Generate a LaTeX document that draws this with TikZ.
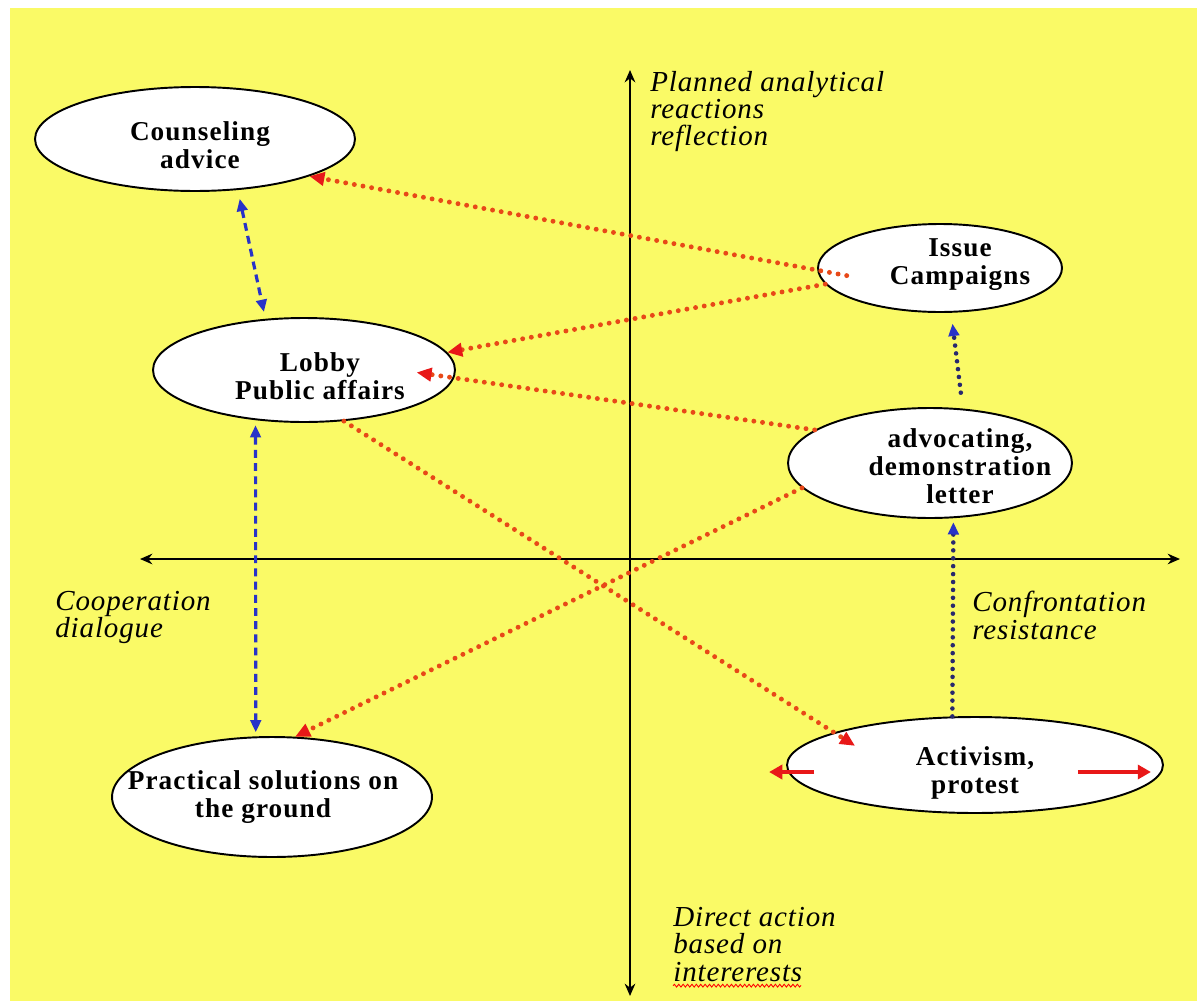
\documentclass[tikz,border=0pt]{standalone}
\usepackage{fontspec}
\setmainfont{Liberation Serif}
\newfontfamily\bubblefont[LetterSpace=4]{Liberation Serif}
\newfontfamily\captionfont[LetterSpace=3]{Liberation Serif}
\usetikzlibrary{arrows.meta,shapes.geometric,calc,decorations.pathmorphing}

\definecolor{paper}{RGB}{250,250,102}
\definecolor{dotred}{RGB}{232,72,24}
\definecolor{tipred}{RGB}{232,24,24}
\definecolor{dashblue}{RGB}{40,50,200}
\definecolor{dotnavy}{RGB}{40,40,110}

\tikzset{
  bubble/.style={ellipse, draw=black, line width=1.1pt, fill=white, inner sep=0pt},
  bubbletext/.style={font=\bubblefont\bfseries\fontsize{15.5}{16}\selectfont, align=center, inner sep=0pt},
  axislabel/.style={font=\captionfont\itshape\fontsize{16.5}{15.5}\selectfont, align=left, anchor=north west, inner sep=0pt},
  axisline/.style={line width=1.3pt, {Stealth[length=7pt,width=6pt]}-{Stealth[length=7pt,width=6pt]}},
  reddots/.style={draw=dotred, line width=2.8pt, line cap=round, dash pattern=on 0pt off 5pt, -{Triangle[length=8.5pt,width=7.5pt,color=tipred]}},
  bluedash/.style={draw=dashblue, line width=1.8pt, dash pattern=on 4.5pt off 3pt, {Triangle[length=7pt,width=6pt]}-{Triangle[length=7pt,width=6pt]}},
  navydots/.style={draw=dotnavy, line width=2.6pt, line cap=round, dash pattern=on 0pt off 4.5pt, -{Triangle[length=7pt,width=6pt,color=dashblue]}},
  redarrow/.style={draw=tipred, line width=2.4pt, -{Triangle[length=7.5pt,width=8pt]}},
  spellwave/.style={draw=red, line width=0.5pt, decorate, decoration={snake, segment length=2.5pt, amplitude=0.8pt}},
}

\begin{document}
\begin{tikzpicture}[x=0.02cm, y=-0.02cm]
  \useasboundingbox (0,0) rectangle (1197,1001);
  \fill[paper] (10,8) rectangle (1197,1001);

  % axes
  \coordinate (ytop) at (630,70);
  \coordinate (ybot) at (630,996);
  \coordinate (xleft) at (140,559);
  \coordinate (xright) at (1180,559);
  \draw[axisline] (ybot) -- (ytop);
  \draw[axisline] (xleft) -- (xright);

  % axis captions
  \node[axislabel] (planned) at (650,71) {Planned analytical\\reactions\\reflection};
  \node[axislabel] (coop) at (55,591) {Cooperation\\dialogue};
  \node[axislabel] (confront) at (972,591) {Confrontation\\resistance};
  \node[axislabel] (direct) at (673,907) {Direct action\\based on\\intererests};
  \draw[spellwave] ($(direct.south west)+(0,4)$) -- ($(direct.south west)+(128,4)$);

  % strategy bubbles
  \node[bubble, minimum width=6.4cm, minimum height=2.08cm,
        label={[bubbletext, xshift=0.1cm, yshift=-0.12cm]center:Counseling\\advice}]
        (counsel) at (195,139) {};
  \node[bubble, minimum width=4.88cm, minimum height=1.76cm,
        label={[bubbletext, xshift=0.4cm, yshift=0.06cm]center:Issue\\Campaigns}]
        (issue) at (940,268) {};
  \node[bubble, minimum width=6.04cm, minimum height=2.08cm,
        label={[bubbletext, xshift=0.32cm, yshift=-0.12cm]center:Lobby\\Public affairs}]
        (lobby) at (304,370) {};
  \node[bubble, minimum width=5.68cm, minimum height=2.2cm,
        label={[bubbletext, xshift=0.6cm, yshift=-0.06cm]center:advocating,\\demonstration\\letter}]
        (adv) at (930,463) {};
  \node[bubble, minimum width=7.52cm, minimum height=1.92cm,
        label={[bubbletext, yshift=-0.16cm]center:Activism,\\protest}]
        (act) at (975,765) {};
  \node[bubble, minimum width=6.4cm, minimum height=2.4cm,
        label={[bubbletext, xshift=-0.18cm]center:Practical solutions on\\the ground}]
        (prac) at (272,797) {};

  % red dotted influence lines
  \draw[reddots, shorten <=-0.6cm] (issue.181) -- (counsel.-18.6);
  \draw[reddots] (issue.188.5) -- (lobby.7.3);
  \draw[reddots, shorten >=-0.76cm] (adv.164.9) -- (lobby.-3.4);
  \draw[reddots] (adv.191) -- (prac.69);
  \draw[reddots, shorten >=-0.5cm] (lobby.-52) -- (act.167.7);

  % blue dashed two-way links
  \draw[bluedash, shorten <=0.18cm, shorten >=0.14cm] (counsel.-50.5) -- (lobby.127.9);
  \draw[bluedash, shorten <=0.1cm, shorten >=0.08cm] (lobby.226.4) -- (prac.105.9);

  % navy dotted escalation lines
  \draw[navydots, shorten <=0.32cm, shorten >=0.22cm] (adv.59.3) -- (issue.-76.9);
  \draw[navydots, shorten >=0.08cm] (act.115.8) -- (adv.-67.9);

  % activism spreading sideways
  \draw[redarrow] ($(act.west)+(28,7)$) -- ($(act.west)+(-17,7)$);
  \draw[redarrow] ($(act.east)+(-86,7)$) -- ($(act.east)+(-13,7)$);
\end{tikzpicture}
\end{document}
